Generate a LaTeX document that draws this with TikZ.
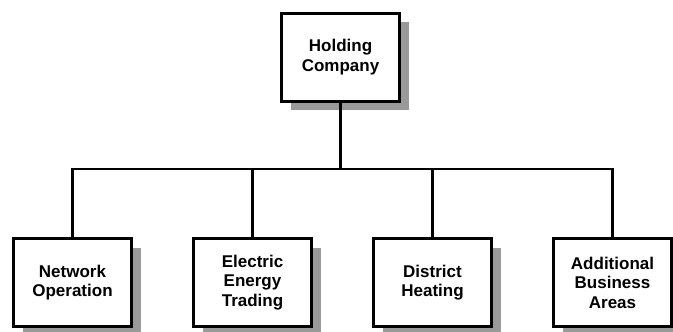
\documentclass[tikz,border=0pt]{standalone}
\usepackage{fontspec}
\setmainfont{Liberation Sans}
\usetikzlibrary{shadows}
\definecolor{shadowgray}{RGB}{153,153,153}
\tikzset{
  orgbox/.style={draw=black, line width=3pt, fill=white, minimum width=118pt, minimum height=88pt,
    align=center, inner sep=2pt, font=\bfseries\fontsize{17}{19.5}\selectfont,
    drop shadow={shadow xshift=9pt, shadow yshift=-9pt, fill=shadowgray, opacity=1}},
  link/.style={line width=2.6pt, black}
}
\begin{document}
\begin{tikzpicture}[x=1pt, y=-1pt]
\useasboundingbox (0,0) rectangle (673,332);
\coordinate (j) at (340.5,169);
\node[orgbox] (top) at (340.5,57) {Holding\\Company};
\node[orgbox] (a) at (72.5,282.5) {Network\\Operation};
\node[orgbox] (b) at (252.5,282.5) {Electric\\Energy\\Trading};
\node[orgbox] (c) at (432.5,282.5) {District\\Heating};
\node[orgbox] (d) at (612.5,282.5) {Additional\\Business\\Areas};
\draw[link] (top.south) -- (j);
\draw[link] (a.north) |- (j) -| (d.north);
\draw[link] (b.north) -- (b.north |- j);
\draw[link] (c.north) -- (c.north |- j);
\end{tikzpicture}
\end{document}
